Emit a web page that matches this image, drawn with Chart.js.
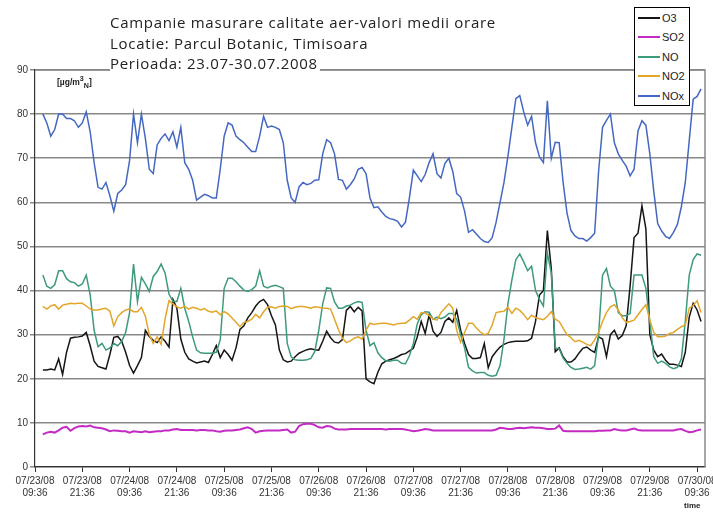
<!DOCTYPE html>
<html>
<head>
<meta charset="utf-8">
<title>Campanie masurare calitate aer</title>
<script src="https://cdn.jsdelivr.net/npm/chart.js@4.4.0/dist/chart.umd.min.js"></script>
<style>
  body { margin: 0; background: #fff; }
  #box { position: relative; width: 713px; height: 512px; overflow: hidden; }
  #titlu { position: absolute; left: 110px; top: 12px; font: 15px 'Open Sans', sans-serif; letter-spacing: 0.7px; color: #222; line-height: 20.5px; }
  #titlu span { background: #fff; padding-right: 2px; }
  #legenda { position: absolute; left: 634px; top: 7px; width: 54px; height: 97px; border: 1px solid #000; background: #fff;
             font: 11px 'Liberation Sans', Arial, sans-serif; color: #222; }
  .item { height: 19.5px; display: flex; align-items: center; }
  .item i { display: inline-block; width: 22px; height: 2px; margin: 0 2px 0 3px; }
  #unitate { position: absolute; left: 57px; top: 75px; font: bold 8.5px 'Liberation Sans', Arial, sans-serif; color: #222; }
  #timp { position: absolute; left: 684px; top: 501px; font: bold 8px 'Liberation Sans', Arial, sans-serif; color: #222; }
</style>
</head>
<body>
<div id="box">
  <canvas id="grafic" width="713" height="512"></canvas>
  <div id="titlu">
    <span>Campanie masurare calitate aer-valori medii orare</span><br>
    <span>Locatie: Parcul Botanic, Timisoara</span><br>
    <span>Perioada: 23.07-30.07.2008</span>
  </div>
  <div id="unitate">[&micro;g/m<sup>3</sup><sub>N</sub>]</div>
  <div id="legenda"></div>
  <div id="timp">time</div>
</div>
<script>
// etichete axa x (la fiecare 12 ore)
const tickHours = [0, 12, 24, 36, 48, 60, 72, 84, 96, 108, 120, 132, 144, 156, 168];
const tickDates = ['07/23/08', '07/23/08', '07/24/08', '07/24/08', '07/25/08', '07/25/08', '07/26/08', '07/26/08',
                   '07/27/08', '07/27/08', '07/28/08', '07/28/08', '07/29/08', '07/29/08', '07/30/08'];
const tickTimes = ['09:36', '21:36', '09:36', '21:36', '09:36', '21:36', '09:36', '21:36',
                   '09:36', '21:36', '09:36', '21:36', '09:36', '21:36', '09:36'];
const firstHour = 2; // prima valoare orara

const seriesNames = ['O3', 'SO2', 'NO', 'NO2', 'NOx'];
const seriesColors = ['#151515', '#c42ac4', '#3d9a7c', '#e2a62a', '#4468c2'];

const O3 = [22,22,22.2,22,24.5,21,26,29.2,29.4,29.5,
  29.7,30.5,27.5,24,22.8,22.5,22.2,25.5,29.4,29.6,
  28.5,26,23,21.3,23,24.8,31,29.6,28.7,28.2,
  29.5,28.5,27.2,38,36,29,26,24.5,24,23.6,
  23.8,24,23.7,25.5,27.5,24.8,26.5,25.5,24.2,27,
  31.2,32,33.8,35,36.5,37.5,38,36.8,34.3,32.2,
  26.5,24.3,23.8,24,25,25.8,26.2,26.6,26.8,26.6,
  26.5,28.5,30.8,29.3,28.3,28.1,28.9,35.5,36.4,35.2,
  36.2,35.4,20,19.3,18.9,21.5,23.4,24,24.3,24.6,
  25,25.5,25.7,26.3,26.9,29.5,33,30.3,34.5,30.8,
  29.6,30.5,33,33.8,32.8,35.5,31,28,25.5,24.6,
  24.6,24.8,28,22.5,25,26.2,27.2,27.8,28.2,28.4,
  28.5,28.5,28.5,28.6,29.2,33,39,40,53.6,45,
  26.1,27,25,23.8,23.8,24.5,25.8,26.9,27.2,26.5,
  26,29.5,29,25,30,31,29,29.8,32,41,
  52,53,59.2,54,30,26.5,25,25.6,24.2,23.3,
  23.3,23.1,22.8,26,34,37.1,35.6,33];

const SO2 = [7.4,7.8,8,7.8,8.3,8.9,9.1,8.2,8.8,9.2,
  9.3,9.2,9.4,9,8.9,8.8,8.5,8.1,8.3,8.2,
  8.1,8.1,7.8,8.1,8,7.9,8.1,7.9,8,8.1,
  8.1,8.3,8.3,8.5,8.6,8.4,8.4,8.4,8.4,8.3,
  8.4,8.4,8.3,8.3,8.1,8,8.2,8.3,8.3,8.4,
  8.5,8.8,9,8.6,7.8,8.1,8.2,8.3,8.3,8.3,
  8.3,8.4,8.5,7.8,8,9.3,9.7,9.8,9.8,9.5,
  9,8.9,9.3,9.2,8.7,8.5,8.5,8.5,8.6,8.6,
  8.6,8.6,8.6,8.6,8.6,8.6,8.6,8.5,8.6,8.6,
  8.6,8.6,8.5,8.3,8.1,8.2,8.4,8.6,8.5,8.3,
  8.3,8.3,8.3,8.3,8.3,8.3,8.3,8.3,8.3,8.3,
  8.3,8.3,8.3,8.3,8.3,8.5,8.9,8.8,8.6,8.6,
  8.8,8.9,8.8,8.9,9,8.9,8.9,8.8,8.6,8.6,
  8.7,9.4,8.2,8.1,8.1,8.1,8.1,8.1,8.1,8.1,
  8.1,8.2,8.2,8.3,8.3,8.6,8.4,8.3,8.3,8.5,
  8.7,8.4,8.3,8.3,8.3,8.3,8.3,8.3,8.3,8.3,
  8.3,8.5,8.6,8.2,7.9,8,8.3,8.5];

const NO = [43.5,41,40.5,41.3,44.5,44.5,42.7,42,41.8,41,
  41.5,43.5,39,31,27.3,28,26.5,27,28,27.5,
  28.5,30.5,35,46,37.5,43,41.5,39.8,43.2,44.3,
  46,44,39.2,37.5,37.5,40.5,36,33,29.5,26.5,
  25.9,25.8,25.8,25.8,26,28.8,40.5,42.8,42.8,42,
  41,40.1,39.8,40.2,41,44.5,41,40.6,41,41.2,
  40.9,40.5,28,25,24.3,24.2,24.2,24.3,24.6,26.2,
  31,37,40.6,40.5,37.4,36,36,36.5,36.7,37.2,
  37.5,37.3,31,27.5,28.2,25.9,24.8,24.1,24,24.2,
  24.2,23.5,23.4,25.2,28,32.5,34.5,35.2,35.1,33.5,
  34,33.6,34,34.8,34.8,33.4,30,27,22.6,21.8,
  21.3,21.4,21.4,20.8,20.6,20.8,23,29,37,42.4,
  47,48.3,46.5,44.5,45.5,40,38,36.5,48.5,44,
  27,26.8,24.7,23.5,22.6,22.1,22.2,22.4,22.6,22.2,
  23,30,43.5,45,41,40,35,34.3,34.3,34.8,
  43.5,43.5,43.5,40.5,33,25,23.5,24,23.5,22.7,
  22.3,22.6,24.5,33,43.5,47,48.3,48];

const NO2 = [36.4,35.8,36.5,36.8,35.8,36.7,36.9,37.1,37,37.1,
  37.1,36.5,35.8,35.6,35.6,35.8,36,35.3,32,34.1,
  35,35.6,35.8,35.2,35.2,36.2,34.2,30,28,29.5,
  27.8,33.5,37.7,37,36.3,36,36.4,35.8,36.2,36,
  35.6,35.9,35.3,35.1,35.4,34.5,35.2,34.7,33.8,32.8,
  31.8,32.8,33,33.5,34.6,33.8,35.2,36.2,36.3,36,
  36.4,36.5,36.4,35.9,36.2,36.4,36.4,36.2,36,36.3,
  36.2,36,36,35.8,33.5,31.1,29.2,28.2,28.6,29.2,
  29.5,29,31,32.6,32.3,32.5,32.6,32.6,32.4,32.2,
  32.5,32.6,32.6,33.3,34.1,33.5,35,34.9,34.3,33.6,
  33.3,35,36,37,36,31,28.3,30.5,32.6,32.6,
  31.5,30.6,30,30.3,32.2,35,35.2,35.3,36.2,34.8,
  36,35.5,34.6,33.4,34.4,33.9,33.6,33.4,34.1,35.2,
  33.5,33,31.5,30,29.3,28.4,28.7,28.3,27.8,27.5,
  28.8,30.5,33,35,36.3,36.8,35.6,33.8,32.8,33,
  33.3,34.5,35.7,36.8,33.3,30.5,29.5,29.5,29.7,30.3,
  30.5,31.2,31.8,32.2,36,36.6,37.7,35];

const NOx = [80,78,75,76.5,80,80,79,79,78.5,77,
  78,80.5,76,69,63.4,63,64.5,61.5,58,62,
  62.8,64,69.5,80,73.5,80,74.5,67.5,66.5,73,
  74.5,75.5,74,76,72.5,77,69,67.5,65,60.5,
  61.2,61.8,61.5,61,61,67.5,75,78,77.5,75,
  74.2,73.5,72.5,71.5,71.5,75,79.5,77,77.3,77,
  76.5,73.5,65,61,60,63.5,64.5,64,64.3,65,
  65.1,71,74.2,73.5,71,65.2,65,63,64,65.3,
  67.5,67.9,66.5,61,58.8,59,57.8,56.8,56.3,56.1,
  55.7,54.4,55.5,61,67.3,66,64.7,66.3,69,71,
  66.5,65.5,68.8,70,67,62,61.2,58,53.2,53.8,
  52.8,51.8,51.1,50.9,52,55.5,60,64.5,70.5,77,
  83.5,84.2,80.5,77.5,79.5,73.5,70.3,69,83,70,
  73.6,73.5,64.5,57.5,53.6,52.4,51.8,51.8,51.2,52,
  53,67,77,78.6,80,73.5,71,69.5,68.2,66,
  67.5,76.2,78.5,77.5,71,62.5,55.2,53.5,52.3,51.8,
  53.2,55,59,64.5,74,83.4,84,85.7];

const allSeries = [O3, SO2, NO, NO2, NOx];

// legenda
const leg = document.getElementById('legenda');
seriesNames.forEach((n, i) => {
  leg.innerHTML += '<div class="item"><i style="background:' + seriesColors[i] + '"></i>' + n + '</div>';
});

// chenar gri pe dreapta/sus
const chenar = {
  id: 'chenar',
  beforeDatasetsDraw(chart) {
    const a = chart.chartArea, c = chart.ctx;
    c.save();
    c.strokeStyle = '#888';
    c.lineWidth = 1.5;
    c.beginPath();
    c.moveTo(a.left, a.top);
    c.lineTo(a.right, a.top);
    c.lineTo(a.right, a.bottom);
    c.stroke();
    c.restore();
  }
};

new Chart(document.getElementById('grafic'), {
  type: 'line',
  data: {
    datasets: allSeries.map((vals, i) => ({
      label: seriesNames[i],
      data: vals.map((v, k) => ({ x: firstHour + k, y: v })),
      borderColor: seriesColors[i],
      backgroundColor: seriesColors[i],
      borderWidth: i === 1 ? 2 : 1.5,
      order: 5 - i
    }))
  },
  options: {
    responsive: false,
    animation: false,
    layout: { padding: { top: 70, right: 8, left: 0, bottom: 0 } },
    elements: { point: { radius: 0 }, line: { tension: 0 } },
    plugins: { legend: { display: false }, tooltip: { enabled: false } },
    scales: {
      x: {
        type: 'linear',
        min: 0,
        max: 170,
        afterBuildTicks: (s) => { s.ticks = tickHours.map(v => ({ value: v })); },
        afterFit: (s) => { s.height = 45; s.paddingLeft = 0; s.paddingRight = 0; },
        grid: { drawOnChartArea: false, tickLength: 5, color: '#333' },
        border: { color: '#333', width: 1.2 },
        ticks: {
          autoSkip: false,
          maxRotation: 0,
          padding: 3,
          color: '#333',
          font: { family: "'Liberation Sans', Arial", size: 10 },
          callback: (v) => {
            const i = tickHours.indexOf(v);
            return i < 0 ? '' : [tickDates[i], tickTimes[i]];
          }
        }
      },
      y: {
        min: 0,
        max: 90,
        afterFit: (s) => { s.width = 35; },
        grid: { color: '#888', lineWidth: 1.5, tickLength: 5 },
        border: { color: '#333', width: 1.2 },
        ticks: {
          stepSize: 10,
          padding: 2,
          color: '#333',
          font: { family: "'Liberation Sans', Arial", size: 10 }
        }
      }
    }
  },
  plugins: [chenar]
});
</script>
</body>
</html>
